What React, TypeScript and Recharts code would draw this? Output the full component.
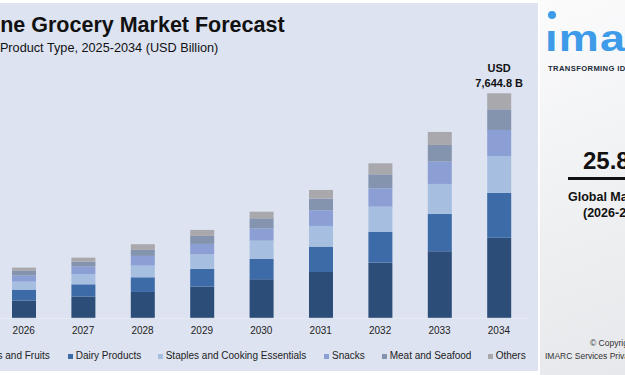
import { Bar, BarChart, LabelList, Legend, XAxis, YAxis } from "recharts";

const YEARS = ["2026", "2027", "2028", "2029", "2030", "2031", "2032", "2033", "2034"];
const VEG_FRUITS = [600, 736, 895, 1076, 1325, 1574, 1890, 2277, 2739];
const DAIRY = [374, 419, 499, 601, 700, 861, 1053, 1269, 1529];
const STAPLES = [272, 351, 397, 499, 612, 703, 850, 1019, 1236];
const SNACKS = [204, 249, 329, 351, 421, 533, 624, 759, 895];
const MEAT = [160, 170, 204, 272, 340, 395, 476, 566, 702];
const OTHERS = [112, 136, 193, 204, 224, 295, 374, 442, 544];

const SERIES = [
  { key: "veg", name: "Vegetables and Fruits", values: VEG_FRUITS, color: "#2C4D78" },
  { key: "dairy", name: "Dairy Products", values: DAIRY, color: "#3D6BA8" },
  { key: "staples", name: "Staples and Cooking Essentials", values: STAPLES, color: "#A6BFE0" },
  { key: "snacks", name: "Snacks", values: SNACKS, color: "#8C9FD5" },
  { key: "meat", name: "Meat and Seafood", values: MEAT, color: "#8494AF" },
  { key: "others", name: "Others", values: OTHERS, color: "#A9A8AC" },
];

const TOTAL_LABEL = ["USD", "7,644.8 B"];

// legend marker x positions (page px)
const LEGEND_X = [-55, 67.7, 157.7, 324, 381.7, 487.7];

const FONT = "'Liberation Sans', Arial, sans-serif";

const data = YEARS.map((year, i) => {
  const row: Record<string, string | number> = { year };
  SERIES.forEach((s) => {
    row[s.key] = s.values[i];
  });
  return row;
});

const renderLegend = (props: any) => {
  const payload = props.payload || [];
  return (
    <div style={{ position: "relative", height: 14, fontFamily: FONT, fontSize: 10, color: "#222" }}>
      {payload.map((entry: any) => {
        const idx = SERIES.findIndex((s) => s.name === entry.value);
        return (
          <div
            key={entry.value}
            style={{
              position: "absolute",
              left: LEGEND_X[idx],
              top: 0,
              height: 14,
              display: "flex",
              alignItems: "center",
              whiteSpace: "nowrap",
            }}
          >
            <span style={{ width: 5, height: 5, background: SERIES[idx].color, marginRight: 3, marginTop: 1 }} />
            <span>{entry.value}</span>
          </div>
        );
      })}
    </div>
  );
};

const renderTotal = (props: any) => {
  const { x, y, width, index } = props;
  if (index !== YEARS.length - 1) return null;
  const cx = x + width / 2;
  return (
    <g fontFamily={FONT} fontSize={11} fontWeight="bold" fill="#111" textAnchor="middle">
      <text x={cx} y={y - 21}>{TOTAL_LABEL[0]}</text>
      <text x={cx} y={y - 6.5}>{TOTAL_LABEL[1]}</text>
    </g>
  );
};

const abs = (style: React.CSSProperties): React.CSSProperties => ({
  position: "absolute",
  whiteSpace: "nowrap",
  lineHeight: 1,
  fontFamily: FONT,
  ...style,
});

export default function App() {
  return (
    <div
      style={{
        position: "absolute",
        left: 0,
        top: 0,
        width: 625,
        height: 375,
        overflow: "hidden",
        background: "#FFFFFF",
      }}
    >
      <div style={{ position: "absolute", left: 0, top: 3, width: 538, height: 368, background: "#DDE3F1" }} />
      <div
        style={{
          position: "absolute",
          left: 540,
          top: 0,
          width: 85,
          height: 375,
          background: "linear-gradient(160deg, #FBFBFC 0%, #F1F2F4 45%, #E6E8EB 100%)",
        }}
      />

      <div style={abs({ left: -41.6, top: 14.8, fontSize: 21.5, fontWeight: "bold", color: "#111" })}>
        Online Grocery Market Forecast
      </div>
      <div style={abs({ left: -67.8, top: 41.5, fontSize: 12.7, color: "#111" })}>
        Breakup by Product Type, 2025-2034 (USD Billion)
      </div>

      <div style={{ position: "absolute", left: -5.7, top: 0, width: 534.6, height: 375 }}>
        <BarChart
          width={534.6}
          height={375}
          data={data}
          margin={{ top: 93.3, right: 0, bottom: 26.7, left: 0 }}
        >
          <XAxis
            dataKey="year"
            tickLine={false}
            axisLine={{ stroke: "#E8ECF5" }}
            tickMargin={3}
            tick={{ fontSize: 10, fill: "#222", fontFamily: FONT }}
            interval={0}
          />
          <YAxis hide domain={[0, 7645]} />
          <Legend
            verticalAlign="middle"
            align="center"
            content={renderLegend}
            wrapperStyle={{ left: 5.7, top: 348.5, width: 540, height: 14 }}
          />
          {SERIES.map((s, i) => (
            <Bar
              key={s.key}
              dataKey={s.key}
              name={s.name}
              stackId="a"
              fill={s.color}
              barSize={24}
              isAnimationActive={false}
            >
              {i === SERIES.length - 1 && <LabelList dataKey={s.key} content={renderTotal} />}
            </Bar>
          ))}
        </BarChart>
      </div>

      <div style={{ position: "absolute", left: 548, top: 11, width: 8, height: 8, borderRadius: 4, background: "#3D9BE9" }} />
      <div
        style={abs({
          left: 545,
          top: 20.5,
          fontSize: 36,
          fontWeight: "bold",
          color: "#3D9BE9",
          letterSpacing: 1,
          transform: "scaleX(1.25)",
          transformOrigin: "left",
        })}
      >
        ımarc
      </div>
      <div style={abs({ left: 548, top: 65, fontSize: 7.6, fontWeight: "bold", color: "#1B2A3A", letterSpacing: 0.4 })}>
        TRANSFORMING IDEAS INTO IMPACT
      </div>
      <div style={abs({ left: 583, top: 149, fontSize: 24, fontWeight: "bold", color: "#111" })}>25.8%</div>
      <div style={{ position: "absolute", left: 568, top: 177, width: 60, height: 3, background: "#111" }} />
      <div style={abs({ left: 568, top: 191, fontSize: 12.5, fontWeight: "bold", color: "#111" })}>
        Global Market CAGR
      </div>
      <div style={abs({ left: 583, top: 207, fontSize: 12.5, fontWeight: "bold", color: "#111" })}>
        (2026-2034)
      </div>
      <div style={abs({ left: 590, top: 339, fontSize: 8.5, color: "#333" })}>© Copyright</div>
      <div style={abs({ left: 545, top: 352, fontSize: 8.5, color: "#333" })}>IMARC Services Private Limited</div>
    </div>
  );
}
